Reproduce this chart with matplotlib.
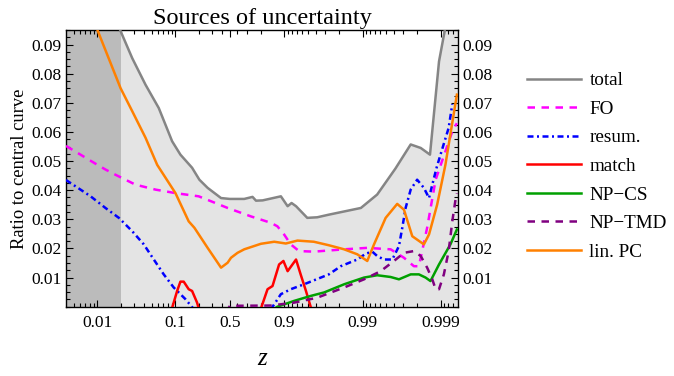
import numpy as np
import matplotlib
matplotlib.use("Agg")
import matplotlib.pyplot as plt
from matplotlib.ticker import FixedLocator, FixedFormatter, AutoMinorLocator

plt.rcParams['font.family'] = ['Liberation Serif', 'DejaVu Serif']

# ---- data (z, ratio to central curve) ----
total_z = [0.004, 0.01, 0.019, 0.0282, 0.0417, 0.0616, 0.0913, 0.1166, 0.1645, 0.176,
           0.2039, 0.26, 0.386, 0.5, 0.673, 0.744, 0.769, 0.81, 0.889, 0.909, 0.919,
           0.929, 0.949, 0.962, 0.973, 0.9895, 0.9935, 0.9962, 0.99758, 0.9982,
           0.99863, 0.99895, 0.99913, 0.9994]
total_v = [0.16, 0.12, 0.096, 0.0853, 0.0762, 0.0682, 0.0568, 0.0522, 0.0477, 0.0464,
           0.0436, 0.0408, 0.0373, 0.0370, 0.037, 0.0377, 0.0364, 0.0365, 0.0379, 0.0345,
           0.0356, 0.0345, 0.0305, 0.0307, 0.0316, 0.0339, 0.0385, 0.0474, 0.0557,
           0.0545, 0.0522, 0.0842, 0.096, 0.11]

fo_z = [0.004, 0.0101, 0.0128, 0.0172, 0.031, 0.0559, 0.1007, 0.1997, 0.2876, 0.4687,
        0.732, 0.851, 0.877, 0.899, 0.917, 0.935, 0.958, 0.973, 0.9828, 0.9913,
        0.99563, 0.99705, 0.9978, 0.9981, 0.99851, 0.99884, 0.99929, 0.99938]
fo_v = [0.0552, 0.0487, 0.0471, 0.0453, 0.0419, 0.0402, 0.039, 0.0379, 0.0362, 0.0339,
        0.031, 0.0288, 0.0276, 0.0248, 0.0214, 0.0191, 0.0189, 0.0193, 0.0197, 0.0202,
        0.0197, 0.0168, 0.0139, 0.0139, 0.0271, 0.0436, 0.0602, 0.063]

resum_z = [0.004, 0.00532, 0.00826, 0.0128, 0.019, 0.0282, 0.0396, 0.0532, 0.0713,
           0.0957, 0.135, 0.175, 0.5, 0.85, 0.889, 0.917, 0.944, 0.9658, 0.973, 0.981,
           0.9883, 0.9909, 0.9925, 0.9935, 0.99468, 0.99584, 0.99658, 0.9969, 0.99719,
           0.99758, 0.998, 0.99836, 0.99859, 0.99872, 0.99888, 0.99909, 0.99921, 0.99929]
resum_v = [0.0435, 0.0413, 0.0379, 0.0339, 0.0305, 0.0259, 0.0214, 0.0162, 0.0111,
           0.0066, 0.0026, -0.001, np.nan, -0.001, 0.0043, 0.006, 0.0077, 0.01, 0.0111,
           0.0139, 0.0162, 0.0182, 0.0189, 0.0174, 0.0162, 0.0162, 0.0208, 0.0271,
           0.0339, 0.0402, 0.0436, 0.0408, 0.0373, 0.0419, 0.048, 0.056, 0.0614, 0.0695]

match_z = [0.09, 0.1058, 0.1166, 0.1285, 0.1488, 0.1645, 0.1905, 0.202, 0.5,
           0.798, 0.8355, 0.858, 0.883, 0.897, 0.909, 0.929, 0.938, 0.947, 0.955]
match_v = [-0.001, 0.0054, 0.0086, 0.0086, 0.006, 0.0054, 0.0014, -0.001, np.nan,
           -0.001, 0.006, 0.0071, 0.0145, 0.0157, 0.0122, 0.0162, 0.0111, 0.0054, -0.001]

npcs_z = [0.86, 0.877, 0.925, 0.954, 0.969, 0.9828, 0.99043, 0.9935, 0.99563,
          0.99658, 0.99758, 0.9981, 0.99844, 0.99865, 0.99895, 0.99925, 0.99938]
npcs_v = [-0.001, 0.0, 0.002, 0.0037, 0.0049, 0.0077, 0.01, 0.0108, 0.0102,
          0.0094, 0.0111, 0.0111, 0.01, 0.0088, 0.0145, 0.0214, 0.0265]

nptmd_z = [0.45, 0.5, 0.85, 0.925, 0.962, 0.969, 0.9828, 0.99043, 0.99414, 0.99604,
           0.99705, 0.9978, 0.9982, 0.99851, 0.99872, 0.99884, 0.99895, 0.99909,
           0.99921, 0.99929, 0.99935, 0.99938]
nptmd_v = [-0.002, 0.0003, 0.0004, 0.0014, 0.0031, 0.004, 0.0066, 0.0094, 0.0122, 0.0157,
           0.0185, 0.0191, 0.0174, 0.0134, 0.0094, 0.006, 0.006, 0.0111,
           0.0191, 0.0293, 0.0362, 0.039]

linpc_z = [0.008, 0.0101, 0.02, 0.0282, 0.0417, 0.0588, 0.1007, 0.1488, 0.176, 0.26,
           0.386, 0.4687, 0.517, 0.602, 0.673, 0.8, 0.865, 0.904, 0.932, 0.958, 0.973,
           0.9828, 0.9883, 0.9913, 0.99287, 0.99494, 0.9964, 0.99705, 0.99769, 0.99836,
           0.99859, 0.99889, 0.99913, 0.99938]
linpc_v = [0.102, 0.095, 0.075, 0.0671, 0.058, 0.0487, 0.039, 0.0293, 0.0271, 0.0202,
           0.0134, 0.0151, 0.0168, 0.0185, 0.0197, 0.0216, 0.0223, 0.0217, 0.0227, 0.0223,
           0.0211, 0.0197, 0.018, 0.0157, 0.0214, 0.0305, 0.0353, 0.0333, 0.0242, 0.0214,
           0.0248, 0.035, 0.0487, 0.0728]

major_ticks = [0.01, 0.1, 0.5, 0.9, 0.99, 0.999]
major_labels = ['0.01', '0.1', '0.5', '0.9', '0.99', '0.999']
minor_ticks = ([0.005, 0.006, 0.007, 0.008, 0.009]
               + [k / 100 for k in range(2, 10)]
               + [0.2, 0.3, 0.4, 0.6, 0.7, 0.8]
               + [0.9 + k / 100 for k in range(1, 9)]
               + [0.99 + k / 1000 for k in range(1, 9)]
               + [0.9991, 0.9992, 0.9993])


# log in z below 1/2, log in (1-z) above 1/2
def fwd(z):
    z = np.clip(np.asarray(z, float), 1e-9, 1 - 1e-9)
    return np.where(z < 0.5, np.log(2 * z), -np.log(2 * (1 - z)))


def inv(u):
    u = np.asarray(u, float)
    return np.where(u < 0, np.exp(np.minimum(u, 0)) / 2, 1 - np.exp(-np.maximum(u, 0)) / 2)


fig = plt.figure(figsize=(6.74, 3.76), dpi=100)
ax = fig.add_axes([66 / 674, 1 - 306.7 / 376, (458 - 66) / 674, (306.7 - 30) / 376])
ax.set_xscale('function', functions=(fwd, inv))
ax.set_xlim(0.004, 0.9994)
ax.set_ylim(0, 0.095)

# shaded regions
tz = np.array(total_z)
ax.fill_between(tz, 0, total_v, color='#e4e4e4', lw=0, zorder=0)
ax.axvspan(0.004, 0.02, color='#bbbbbb', lw=0, zorder=0.5)

lw = 1.8
dash = (3.0, 2.6)
ax.plot(total_z, total_v, color='#858585', lw=lw, label='total', zorder=3)
ax.plot(fo_z, fo_v, color='#ff00ff', lw=lw, dashes=dash, label='FO', zorder=3)
ax.plot(resum_z, resum_v, color='#0000ff', lw=lw, dashes=(2.4, 1.4, 0.8, 1.4),
        label='resum.', zorder=3)
ax.plot(match_z, match_v, color='#ff0000', lw=lw, label='match', zorder=3)
ax.plot(npcs_z, npcs_v, color='#00a000', lw=lw, label='NP\u2212CS', zorder=3)
ax.plot(nptmd_z, nptmd_v, color='#800080', lw=lw, dashes=dash, label='NP\u2212TMD',
        zorder=3)
ax.plot(linpc_z, linpc_v, color='#ff8000', lw=lw, label='lin. PC', zorder=3)

# ticks
ax.xaxis.set_major_locator(FixedLocator(major_ticks))
ax.xaxis.set_major_formatter(FixedFormatter(major_labels))
ax.xaxis.set_minor_locator(FixedLocator(minor_ticks))
ax.xaxis.set_minor_formatter(FixedFormatter([]))
ax.yaxis.set_major_locator(FixedLocator([0.01 * k for k in range(1, 10)]))
ax.yaxis.set_major_formatter(FixedFormatter(['0.0%d' % k for k in range(1, 10)]))
ax.yaxis.set_minor_locator(AutoMinorLocator(4))
ax.tick_params(which='both', direction='in', top=True, right=True, labelright=True,
               labelsize=12.5, width=0.8)
ax.tick_params(which='major', length=5)
ax.tick_params(which='minor', length=2.8)
ax.tick_params(axis='x', pad=6)
for s in ax.spines.values():
    s.set_linewidth(1.0)

ax.set_title('Sources of uncertainty', fontsize=17.5, pad=4)
ax.set_xlabel('z', fontsize=18, fontstyle='italic', labelpad=12)
ax.set_ylabel('Ratio to central curve', fontsize=13.3, labelpad=2)

fig.legend(loc='upper left', bbox_to_anchor=(527 / 674, 1 - 72 / 376), frameon=False,
           fontsize=13.8, handlelength=2.8, handletextpad=0.45, labelspacing=0.58,
           borderpad=0, borderaxespad=0)

fig.savefig('out.png', dpi=100)
